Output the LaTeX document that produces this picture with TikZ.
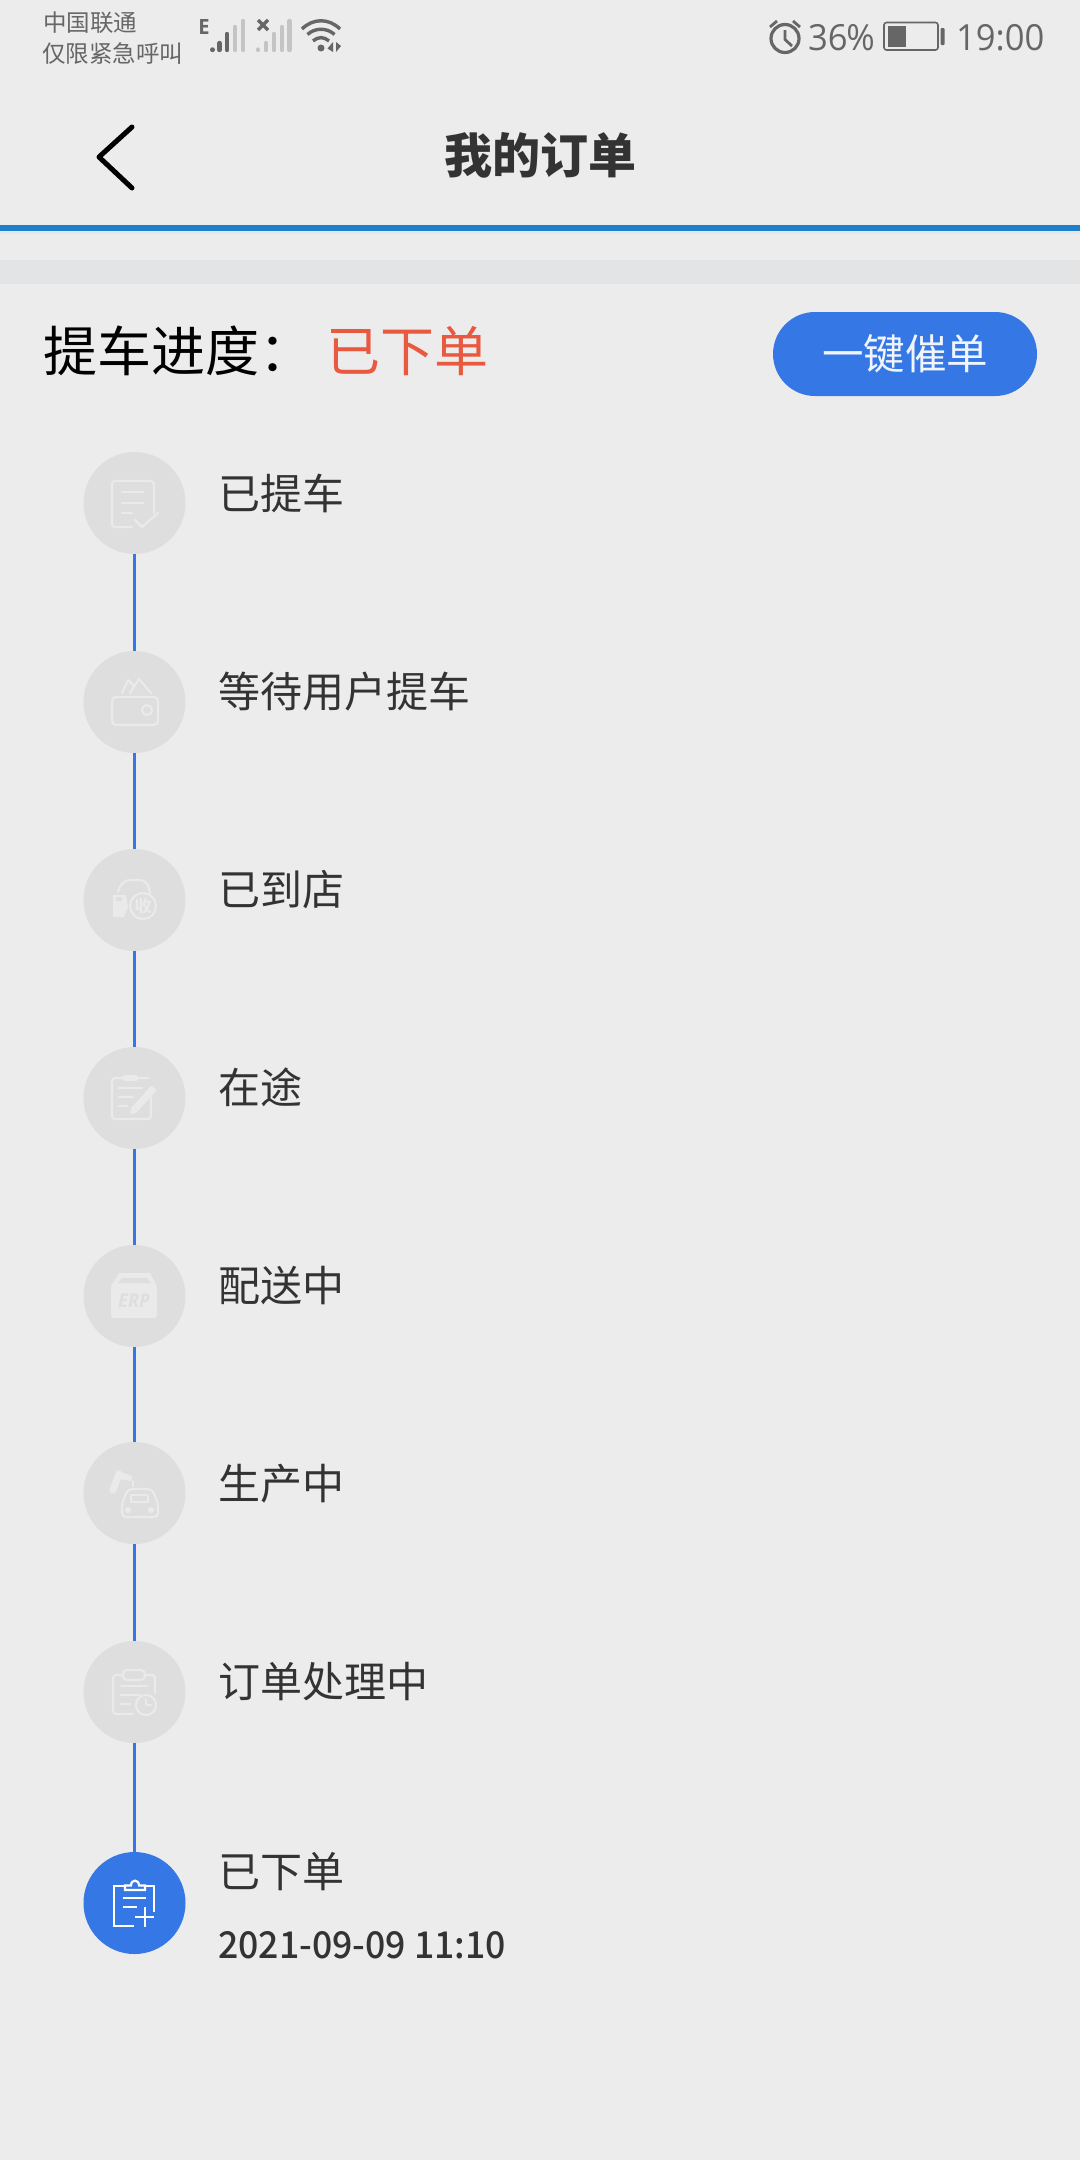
\documentclass[tikz,border=0pt]{standalone}
\usepackage{fontspec}
\newfontfamily\cjk{Noto Sans CJK SC}
\newfontfamily\digits[FakeStretch=0.96]{Open Sans}
\newfontfamily\datefont[FakeStretch=0.963]{Noto Sans CJK SC Medium}
\definecolor{bgc}{HTML}{ECECEC}
\definecolor{bandc}{HTML}{E3E4E6}
\definecolor{barc}{HTML}{1E80CC}
\definecolor{bluec}{HTML}{3578E5}
\definecolor{redc}{HTML}{E8593F}
\definecolor{txtc}{HTML}{333333}
\definecolor{statc}{HTML}{666666}
\definecolor{sigl}{HTML}{C4C4C4}
\definecolor{discc}{HTML}{DEDEDE}
\definecolor{icoc}{HTML}{EAEAEA}
\tikzset{
  lbl/.style={anchor=base west,inner sep=0pt,text=txtc,font=\cjk\fontsize{42}{42}\selectfont},
  stat/.style={anchor=base west,inner sep=0pt,text=statc,font=\cjk\fontsize{23.5}{23.5}\selectfont},
  statnum/.style={anchor=base west,inner sep=0pt,text=statc,font=\digits\fontsize{36}{36}\selectfont},
  disc/.style={circle,fill=discc,minimum size=102pt,inner sep=0pt},
  discon/.style={circle,fill=bluec,minimum size=102pt,inner sep=0pt},
  link/.style={draw=bluec,line width=3.6pt},
  ico/.style={draw=icoc,line width=2.2pt,line cap=round,line join=round},
  icoon/.style={draw=white,line width=2.2pt,line join=miter},
  bar/.style={line width=4.4pt,line cap=round},
}
\begin{document}
\begin{tikzpicture}[x=1pt,y=-1pt]
\useasboundingbox (0,0) rectangle (1080,2160);
\fill[bgc] (0,0) rectangle (1080,2160);
\fill[bandc!60!bgc] (0,231) rectangle (1080,234);
\fill[barc] (0,225) rectangle (1080,231);
\fill[bandc] (0,260) rectangle (1080,284);
% status bar
\node[stat] (s1) at (43,31) {中国联通};
\node[stat] (s2) at (42,62) {仅限紧急呼叫};
\node[anchor=center,inner sep=0pt,text=statc,font=\digits\bfseries\fontsize{21}{21}\selectfont] (sE) at (204,27) {E};
\draw[bar,statc] (212.5,49.5)--(212.5,50) (219.5,43)--(219.5,50) (227,34)--(227,50);
\draw[bar,sigl] (235,27)--(235,50) (243,21)--(243,50);
\draw[bar,sigl] (258,49.5)--(258,50) (266,43)--(266,50) (274,34)--(274,50) (282,27)--(282,50) (289.5,21)--(289.5,50);
\draw[statc,line width=3.4pt] (258,20)--(268,30) (268,20)--(258,30);
\fill[statc] (321,48) circle (3.5);
\draw[statc,line width=3.4pt] (313,41) .. controls (318,36.5) and (324,36.5) .. (329,41);
\draw[statc,line width=3.4pt] (307.5,34.5) .. controls (315,27.5) and (327,27.5) .. (334.5,34.5);
\draw[statc,line width=3.4pt] (302,29) .. controls (313,18) and (329,18) .. (340,29);
\fill[statc] (333,42) -- (333,52) -- (327.5,48.5) -- cycle;
\fill[statc] (336,42) -- (336,52) -- (341,46) -- cycle;
% alarm
\draw[statc,line width=3.2pt] (785,38.5) circle (14);
\draw[statc,line width=2.8pt] (785,30) -- (785,39.5) -- (792,46);
\draw[statc,line width=2.8pt] (770,27) -- (777,21) (793,21) -- (800,27);
\node[statnum] (pct) at (808,50) {36\kern-1.5pt\%};
\draw[statc,line width=1.6pt,rounded corners=2.5pt] (884,22.5) rectangle (938,50);
\fill[statc] (888,26) rectangle (906,47);
\fill[statc,rounded corners=1pt] (940.5,28) rectangle (944.5,45);
\node[statnum] (clock) at (956,50) {19:00};
% header
\draw[black,line width=5pt,line cap=round,line join=round] (132,127) -- (99,157) -- (132,188);
\node[anchor=base,inner sep=0pt,text=txtc,font=\cjk\bfseries\fontsize{48}{48}\selectfont] (title) at (540,173) {我的订单};
% progress row
\node[anchor=base west,inner sep=0pt,text=black,font=\cjk\fontsize{54}{54}\selectfont] (prog) at (43,371) {提车进度：};
\node[anchor=base west,inner sep=0pt,text=redc,font=\cjk\fontsize{54}{54}\selectfont] (state) at (326,371) {已下单};
\node[rounded corners=42pt,fill=bluec,minimum width=264pt,minimum height=84pt,inner sep=0pt,text=white!92!bluec,font=\cjk\fontsize{41.5}{41.5}\selectfont] (btn) at (905,354) {一键催单};
% discs
\node[disc] (d1) at (134.5,503) {};
\node[disc] (d2) at (134.5,702) {};
\node[disc] (d3) at (134.5,900) {};
\node[disc] (d4) at (134.5,1098) {};
\node[disc] (d5) at (134.5,1296) {};
\node[disc] (d6) at (134.5,1493) {};
\node[disc] (d7) at (134.5,1692) {};
\node[discon] (d8) at (134.5,1903) {};
\foreach \a/\b in {d1/d2,d2/d3,d3/d4,d4/d5,d5/d6,d6/d7,d7/d8}{\draw[link] (\a) -- (\b);}
% labels
\node[lbl] (t1) at (218,509) {已提车};
\node[lbl] (t2) at (218,707) {等待用户提车};
\node[lbl] (t3) at (218,905.5) {已到店};
\node[lbl] (t4) at (218,1103) {在途};
\node[lbl] (t5) at (218,1301) {配送中};
\node[lbl] (t6) at (218,1499) {生产中};
\node[lbl] (t7) at (218,1697) {订单处理中};
\node[lbl] (t8) at (218,1887) {已下单};
\node[anchor=base west,inner sep=0pt,text=txtc,font=\datefont\fontsize{37}{37}\selectfont] (date) at (218,1958) {2021-09-09 11:10};
% icon 1
\draw[ico,rounded corners=3pt] (154,513) -- (154,481) -- (112,481) -- (112,527) -- (132,527);
\draw[ico] (122,492) -- (143,492) (122,503) -- (143,503) (122,513) -- (132,513);
\draw[ico] (135,520) -- (142,527) -- (158,513);
% icon 2
\draw[ico,rounded corners=4pt] (112,697) rectangle (158,725);
\draw[ico] (147,710) circle (5);
\draw[ico] (122,693) -- (128,680) -- (134,686) (130,693) -- (139,679) -- (151,693);
% icon 3
\draw[ico] (118,892) .. controls (120,884) and (124,880) .. (131,880) -- (140,880) .. controls (146,880) and (149,886) .. (150,893);
\fill[icoc] (113,895) -- (126,895) -- (128,907) -- (124,917) -- (113,917) -- cycle;
\fill[discc] (116,897) rectangle (122,901);
\draw[ico,fill=discc] (143,906) circle (13);
\node[inner sep=0pt,text=icoc,font=\cjk\bfseries\fontsize{17}{17}\selectfont] (shou) at (143,906) {收};
% icon 4
\draw[ico,rounded corners=3pt] (151,1097) -- (151,1119) -- (112,1119) -- (112,1078) -- (148,1078);
\fill[icoc,rounded corners=2pt] (123,1075) rectangle (138,1081);
\draw[ico] (119,1088) -- (142,1088) (119,1097) -- (133,1097) (119,1106) -- (127,1106);
\draw[icoc,line width=7pt] (154,1088) -- (135,1109);
\fill[icoc] (130,1114) -- (132,1106) -- (138,1112) -- cycle;
% icon 5
\fill[icoc,rounded corners=3pt] (111,1285) rectangle (157,1318);
\fill[icoc] (111,1286) -- (119,1273) -- (150,1273) -- (157,1286) -- cycle;
\fill[discc] (122,1278) -- (147,1278) -- (151,1283) -- (118,1283) -- cycle;
\node[inner sep=0pt,text=discc,font=\digits\bfseries\itshape\fontsize{19}{19}\selectfont] (erp) at (134,1301) {ERP};
% icon 6
\draw[icoc,line width=7pt,line cap=round] (113,1490) -- (119,1474);
\fill[icoc] (116,1470) -- (132,1476) -- (131,1481) -- (119,1479) -- cycle;
\draw[ico] (133,1481) -- (133,1486);
\draw[ico,rounded corners=4pt] (122,1517) -- (122,1503) -- (128,1489) -- (152,1489) -- (158,1503) -- (158,1517) -- cycle;
\draw[ico] (131,1495) rectangle (148,1502);
\fill[icoc] (128,1510) circle (3) (151,1510) circle (3);
% icon 7
\draw[ico,rounded corners=3pt] (133,1714) -- (113,1714) -- (113,1675) -- (155,1675) -- (155,1693);
\draw[ico,fill=discc,rounded corners=4pt] (123,1670) rectangle (145,1680);
\draw[ico] (121,1686) -- (147,1686) (121,1695) -- (140,1695) (121,1704) -- (130,1704);
\draw[ico,fill=discc] (146,1705) circle (10);
\draw[ico] (146,1699) -- (146,1705) -- (151,1705);
% icon 8
\draw[icoon] (154,1912) -- (154,1886) -- (114,1886) -- (114,1926) -- (134,1926);
\draw[icoon,fill=bluec] (125,1890) -- (125,1885.5) -- (131,1885.5) .. controls (131,1879) and (139,1879) .. (139,1885.5) -- (145,1885.5) -- (145,1890) -- cycle;
\draw[icoon] (123,1898) -- (146,1898) (123,1907) -- (137,1907);
\draw[icoon] (135,1917) -- (154,1917) (145,1907) -- (145,1927);
\end{tikzpicture}
\end{document}
